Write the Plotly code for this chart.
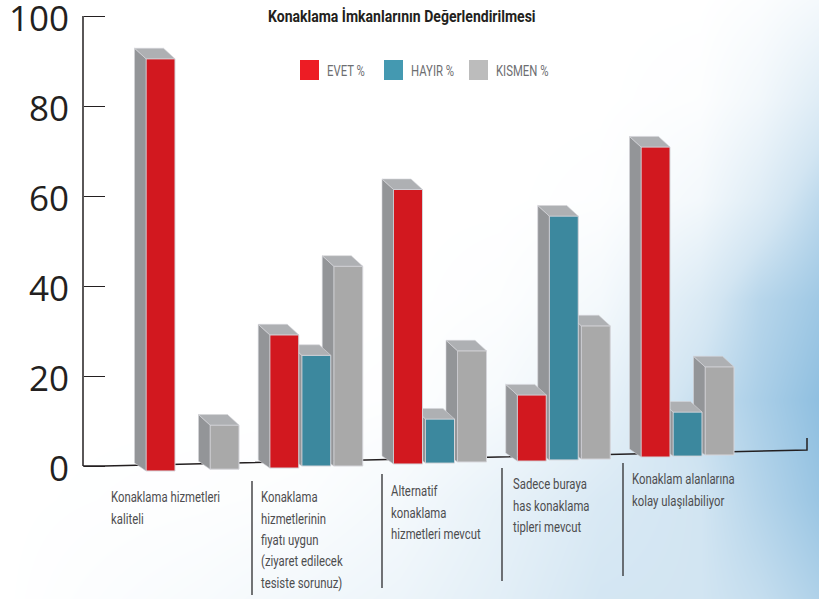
import plotly.graph_objects as go

W, H = 819, 599
TITLE = "Konaklama İmkanlarının Değerlendirilmesi"
SERIES = ["EVET %", "HAYIR %", "KISMEN %"]
EVET = [91.6, 29.6, 61.0, 14.7, 68.9]
HAYIR = [None, 24.6, 9.8, 54.2, 9.8]
KISMEN = [9.8, 44.4, 24.7, 29.6, 19.6]
# the tilted floor of the drawing, in value units, per category and series
FLOOR_EVET = [-1.1, -0.45, 0.45, 1.1, 2.0]
FLOOR_HAYIR = [-0.7, 0.0, 0.65, 1.35, 2.2]
FLOOR_KISMEN = [-0.7, 0.0, 0.9, 1.55, 2.45]
Y_TICKS = [0, 20, 40, 60, 80, 100]
CATEGORY_LINES = [
    ["Konaklama hizmetleri", "kaliteli"],
    ["Konaklama", "hizmetlerinin", "fiyatı uygun", "(ziyaret edilecek", "tesiste sorunuz)"],
    ["Alternatif", "konaklama", "hizmetleri mevcut"],
    ["Sadece buraya", "has konaklama", "tipleri mevcut"],
    ["Konaklam alanlarına", "kolay ulaşılabiliyor"],
]
# Soft sky tint of the page, read by eye (0 = white, 1 = deepest blue)
BG_X = [0, 200, 300, 400, 500, 600, 700, 760, 819]
BG_Y = [0, 100, 200, 300, 400, 500, 599]
BG_Z = [
    [0, 0, 0, 0, 0, 0, 0.00, 0.04, 0.12],
    [0, 0, 0, 0, 0, 0, 0.03, 0.15, 0.36],
    [0, 0, 0, 0, 0, 0.02, 0.13, 0.36, 0.66],
    [0, 0, 0, 0, 0.03, 0.12, 0.40, 0.70, 0.88],
    [0, 0, 0, 0.02, 0.10, 0.26, 0.58, 0.80, 1.00],
    [0, 0.02, 0.04, 0.12, 0.26, 0.42, 0.50, 0.72, 0.92],
    [0, 0.08, 0.14, 0.20, 0.32, 0.48, 0.50, 0.60, 0.76],
]

X0PX, XSTEP = 192.5, 123.75   # px of category 0, px per category
Y0PX, YSTEP = 466.0, 4.5      # px of value 0, px per unit


def xv(px):
    return (px - X0PX) / XSTEP


def yv(px):
    return (Y0PX - px) / YSTEP


XR = [xv(0), xv(W)]
YR = [yv(H), yv(0)]
BW = 29 / XSTEP
OFF = 32 / XSTEP
DX = 11.5 / XSTEP
DY_TOP = 10.5 / YSTEP
DY_BOT = 8 / YSTEP

SIDE_C, TOP_C, EDGE_C = "#939598", "#aeb0b3", "#d5d5da"

fig = go.Figure()
fig.add_trace(go.Heatmap(
    x=[xv(p) for p in BG_X], y=[yv(p) for p in BG_Y], z=BG_Z, zmin=0, zmax=1, zsmooth="best",
    colorscale=[[0, "#ffffff"], [0.5, "#d2e5f2"], [1, "#8fbfe0"]],
    showscale=False, hoverinfo="skip", xaxis="x", yaxis="y"))

# floor line behind all bars
FLOOR_PX_X = [83, 104, 807, 807]
FLOOR_PX_Y = [466, 466, 450, 438]
fig.add_trace(go.Scatter(x=[xv(p) for p in FLOOR_PX_X], y=[yv(p) for p in FLOOR_PX_Y],
                         mode="lines", line=dict(color="#231f20", width=1.5),
                         hoverinfo="skip", showlegend=False, xaxis="x", yaxis="y"))


def add_series(name, vals, floor, offset, colour, yaxis):
    idx = [i for i, v in enumerate(vals) if v is not None]
    sx, sy, tx, ty = [], [], [], []
    for i in idx:
        left = i + offset - BW / 2
        right = i + offset + BW / 2
        top = floor[i] + vals[i]
        bot = floor[i]
        sx += [left, left - DX, left - DX, left, left, None]
        sy += [top, top + DY_TOP, bot + DY_BOT, bot, top, None]
        tx += [left, right, right - DX, left - DX, left, None]
        ty += [top, top, top + DY_TOP, top + DY_TOP, top, None]
    for px_, py_, col in ((sx, sy, SIDE_C), (tx, ty, TOP_C)):
        fig.add_trace(go.Scatter(x=px_, y=py_, mode="lines", fill="toself", fillcolor=col,
                                 line=dict(color=EDGE_C, width=0.6), hoverinfo="skip",
                                 showlegend=False, xaxis="x", yaxis=yaxis))
    fig.add_trace(go.Bar(name=name, x=[i + offset for i in idx], y=[vals[i] for i in idx],
                         base=[floor[i] for i in idx], width=BW, marker_color=colour,
                         marker_line=dict(color=EDGE_C, width=1), showlegend=False,
                         xaxis="x", yaxis=yaxis))


add_series(SERIES[2], KISMEN, FLOOR_KISMEN, OFF, "#a9a9a9", "y2")
add_series(SERIES[1], HAYIR, FLOOR_HAYIR, 0, "#3c889e", "y3")
add_series(SERIES[0], EVET, FLOOR_EVET, -OFF, "#d2181f", "y4")


def pxx(p):
    return p / W


def pxy(p):
    return 1 - p / H


shapes, ann = [], []
FONT = "Roboto, sans-serif"
# y axis line
shapes.append(dict(type="line", xref="paper", yref="y", x0=pxx(83), x1=pxx(83), y0=0, y1=100,
                   line=dict(color="#231f20", width=1.5)))
# separators between category captions
for x, y0, y1 in [(252, 481, 595), (382, 474, 588), (502, 468, 581), (623, 463, 576)]:
    shapes.append(dict(type="line", xref="paper", yref="paper", x0=pxx(x), x1=pxx(x),
                       y0=pxy(y0), y1=pxy(y1), line=dict(color="#3a3a3c", width=1.4)))
# category captions
CAP_X = [109, 259, 389, 511, 630]
CAP_Y = [497, 497, 491, 484, 479]
for lines, cx, cy in zip(CATEGORY_LINES, CAP_X, CAP_Y):
    for k, line in enumerate(lines):
        ann.append(dict(text=line, xref="paper", yref="paper", x=pxx(cx), y=pxy(cy + 21.5 * k),
                        xanchor="left", yanchor="middle", showarrow=False,
                        font=dict(family=FONT, size=14, color="#4d4d4f")))
# title
ann.append(dict(text=TITLE, xref="paper", yref="paper", x=pxx(425.5), y=pxy(16),
                xanchor="center", yanchor="middle", showarrow=False,
                font=dict(family=FONT, size=16.5, weight=700, color="#231f20")))
# legend
for name, col, sx, tx in zip(SERIES, ["#ed1c24", "#4499b1", "#bcbcbc"], [300, 384, 469], [325, 409, 494]):
    shapes.append(dict(type="rect", xref="paper", yref="paper", x0=pxx(sx), x1=pxx(sx + 19),
                       y0=pxy(60), y1=pxy(80), fillcolor=col, line=dict(width=0)))
    ann.append(dict(text=name, xref="paper", yref="paper", x=pxx(tx), y=pxy(71), xanchor="left",
                    yanchor="middle", showarrow=False,
                    font=dict(family=FONT, size=14, color="#6d6e71")))

overlay = dict(overlaying="y", range=YR, visible=False, fixedrange=True)
fig.update_layout(
    width=W, height=H, margin=dict(l=0, r=0, t=0, b=0), paper_bgcolor="white", plot_bgcolor="white",
    barmode="overlay", showlegend=False, shapes=shapes, annotations=ann,
    xaxis=dict(range=XR, visible=False, fixedrange=True, automargin=False),
    yaxis=dict(range=YR, anchor="free", position=pxx(83), side="left", tickmode="array",
               tickvals=Y_TICKS, ticks="inside", ticklen=21, tickwidth=1.3, tickcolor="#231f20",
               showgrid=False, zeroline=False, showline=False, ticklabelstandoff=14,
               ticklabeloverflow="allow", automargin=False, ticklabelshift=3,
               tickfont=dict(family="Open Sans, sans-serif", size=35, color="#231f20"), fixedrange=True),
    yaxis2=overlay, yaxis3=overlay, yaxis4=overlay,
)

# The reference's captions use a condensed face; condense the installed one to the same widths.
POST = """
document.body.style.margin = '0';
document.querySelectorAll('.annotation-text').forEach(function (t) {
  var w = t.getComputedTextLength();
  var k = t.textContent.indexOf('Değerlendirilmesi') >= 0 ? 0.85 : 0.81;
  t.setAttribute('text-anchor', 'start');
  t.setAttribute('x', parseFloat(t.getAttribute('x')) - w / 2);
  t.setAttribute('lengthAdjust', 'spacingAndGlyphs');
  t.setAttribute('textLength', w * k);
});
"""
fig.write_html("out.html", config={"displayModeBar": False}, post_script=POST)
